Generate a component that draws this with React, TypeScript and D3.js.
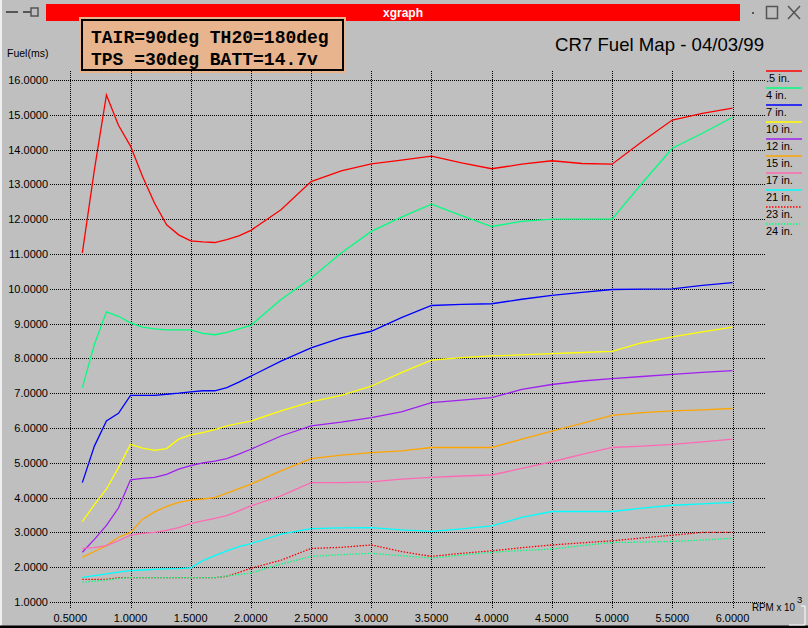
import * as d3 from 'd3';

// RPM (x 1000) sample points shared by every curve
const rpm = [0.6, 0.7, 0.8, 0.9, 1.0, 1.1, 1.2, 1.3, 1.4, 1.5, 1.6, 1.7, 1.8, 1.9, 2.0, 2.25, 2.5, 2.75, 3.0, 3.25, 3.5, 3.75, 4.0, 4.25, 4.5, 4.75, 5.0, 5.25, 5.5, 5.75, 6.0];

const fuel05 = [11.03, 13.42, 15.57, 14.7, 14.1, 13.23, 12.46, 11.84, 11.55, 11.38, 11.35, 11.33, 11.41, 11.52, 11.68, 12.27, 13.08, 13.39, 13.59, 13.7, 13.81, 13.62, 13.45, 13.58, 13.68, 13.6, 13.58, 14.23, 14.85, 15.04, 15.19];
const fuel4 = [7.16, 8.4, 9.34, 9.21, 9.02, 8.9, 8.85, 8.82, 8.82, 8.82, 8.72, 8.68, 8.75, 8.85, 8.95, 9.69, 10.3, 11.03, 11.65, 12.06, 12.43, 12.1, 11.79, 11.94, 12.0, 12.0, 12.0, 13.04, 14.04, 14.47, 14.93];
const fuel7 = [4.43, 5.48, 6.2, 6.42, 6.94, 6.94, 6.94, 6.97, 7.0, 7.04, 7.07, 7.07, 7.16, 7.32, 7.49, 7.92, 8.3, 8.59, 8.78, 9.17, 9.52, 9.55, 9.57, 9.7, 9.81, 9.9, 9.98, 9.99, 10.0, 10.1, 10.18];
const fuel10 = [3.31, 3.8, 4.24, 4.86, 5.53, 5.42, 5.36, 5.41, 5.68, 5.8, 5.87, 5.95, 6.06, 6.13, 6.2, 6.49, 6.75, 6.94, 7.2, 7.59, 7.95, 8.02, 8.07, 8.1, 8.14, 8.17, 8.2, 8.45, 8.62, 8.76, 8.9];
const fuel12 = [2.43, 2.8, 3.2, 3.7, 4.51, 4.55, 4.58, 4.67, 4.82, 4.92, 5.0, 5.05, 5.12, 5.25, 5.39, 5.77, 6.06, 6.17, 6.3, 6.46, 6.73, 6.8, 6.87, 7.11, 7.25, 7.35, 7.42, 7.48, 7.54, 7.6, 7.65];
const fuel15 = [2.28, 2.45, 2.62, 2.86, 3.0, 3.38, 3.59, 3.75, 3.86, 3.93, 3.96, 4.0, 4.13, 4.26, 4.39, 4.77, 5.12, 5.22, 5.29, 5.34, 5.44, 5.44, 5.44, 5.68, 5.91, 6.13, 6.36, 6.44, 6.49, 6.52, 6.56];
const fuel17 = [2.54, 2.56, 2.62, 2.76, 2.92, 2.97, 3.0, 3.06, 3.14, 3.25, 3.33, 3.4, 3.48, 3.62, 3.76, 4.05, 4.43, 4.43, 4.45, 4.53, 4.58, 4.62, 4.65, 4.84, 5.03, 5.24, 5.44, 5.48, 5.53, 5.6, 5.68];
const fuel21 = [1.71, 1.76, 1.81, 1.86, 1.9, 1.92, 1.94, 1.95, 1.96, 1.98, 2.19, 2.33, 2.47, 2.59, 2.68, 2.95, 3.11, 3.13, 3.14, 3.07, 3.03, 3.1, 3.19, 3.43, 3.6, 3.6, 3.6, 3.7, 3.78, 3.82, 3.86];
const fuel23 = [1.65, 1.65, 1.65, 1.7, 1.7, 1.7, 1.7, 1.7, 1.7, 1.7, 1.7, 1.7, 1.74, 1.85, 1.97, 2.2, 2.54, 2.57, 2.64, 2.45, 2.31, 2.4, 2.47, 2.56, 2.64, 2.7, 2.76, 2.84, 2.92, 3.0, 3.0];
const fuel24 = [1.57, 1.6, 1.63, 1.68, 1.7, 1.7, 1.7, 1.7, 1.7, 1.7, 1.7, 1.7, 1.75, 1.79, 1.83, 2.09, 2.31, 2.36, 2.4, 2.33, 2.26, 2.35, 2.43, 2.48, 2.52, 2.62, 2.71, 2.72, 2.74, 2.78, 2.83];

const seriesNames = ['.5 in.', '4 in.', '7 in.', '10 in.', '12 in.', '15 in.', '17 in.', '21 in.', '23 in.', '24 in.'];
const seriesValues = [fuel05, fuel4, fuel7, fuel10, fuel12, fuel15, fuel17, fuel21, fuel23, fuel24];
const seriesColors = ['#ff0000', '#00ff7f', '#0000ff', '#ffff00', '#a020f0', '#ffa500', '#ff69b4', '#00ffff', '#ff0000', '#00ff7f'];
const seriesDotted = [false, false, false, false, false, false, false, false, true, true];

const xTicks = [0.5, 1.0, 1.5, 2.0, 2.5, 3.0, 3.5, 4.0, 4.5, 5.0, 5.5, 6.0];
const yTicks = d3.range(1, 17);

const W = 808;
const H = 628;
const BG = '#bfbfbf';
const SANS = '"Liberation Sans", Arial, sans-serif';
const MONO = '"Liberation Mono", "DejaVu Sans Mono", monospace';

export default function App() {
    const x = d3.scaleLinear().domain([0.5, 6.0]).range([70.3, 732.5]);
    const y = d3.scaleLinear().domain([1, 16]).range([602, 80]);

    const gridLeft = 50;
    const gridRight = 766;
    const gridTop = 71;
    const gridBottom = 608;

    const line = d3.line<[number, number]>()
        .x(d => x(d[0]))
        .y(d => y(d[1]));

    return (
        <svg
            width={W}
            height={H}
            style={{ position: 'absolute', left: 0, top: 0, display: 'block' }}
            fontFamily={SANS}
        >
            <rect width={W} height={H} fill={BG} />

            {/* window frame */}
            <line x1={1} y1={0} x2={1} y2={H} stroke="#ffffff" strokeWidth={1.5} />
            <rect x={0} y={H - 2.5} width={W} height={2.5} fill="#000" />

            {/* title bar */}
            <rect x={46} y={4} width={694} height={17} fill="#ff0000" />
            <text x={403} y={17} textAnchor="middle" fill="#fff" fontSize={12} fontWeight="bold">xgraph</text>
            <line x1={6} y1={12} x2={18} y2={12} stroke="#555" strokeWidth={2} />
            <line x1={23} y1={12} x2={31} y2={12} stroke="#555" strokeWidth={2} />
            <rect x={31} y={8} width={7} height={8} fill="none" stroke="#555" strokeWidth={1.5} />
            <rect x={752} y={12} width={2} height={2} fill="#555" />
            <rect x={766.5} y={6.5} width={11} height={12} fill="none" stroke="#555" strokeWidth={1.5} />
            <line x1={788} y1={6} x2={800} y2={19} stroke="#555" strokeWidth={1.5} />
            <line x1={800} y1={6} x2={788} y2={19} stroke="#555" strokeWidth={1.5} />

            {/* info box */}
            <rect x={79} y={17} width={267} height={56} fill="#e8b48e" />
            <rect x={82} y={20} width={261} height={50} fill="none" stroke="#000" strokeWidth={2} />
            <text x={91} y={43} fontFamily={MONO} fontWeight="bold" fontSize={18} fill="#000">TAIR=90deg TH20=180deg</text>
            <text x={91} y={65} fontFamily={MONO} fontWeight="bold" fontSize={18} fill="#000">TPS =30deg BATT=14.7v</text>

            {/* chart title and axis labels */}
            <text x={555} y={51} fontSize={19} fill="#000" textLength={209} lengthAdjust="spacingAndGlyphs">CR7 Fuel Map - 04/03/99</text>
            <text x={7} y={57} fontSize={10.5} fill="#000">Fuel(ms)</text>
            <text x={752} y={611} fontSize={10.5} fill="#000" textLength={43} lengthAdjust="spacingAndGlyphs">RPM x 10</text>
            <text x={797} y={603} fontSize={9.5} fill="#000">3</text>

            {/* resize handle */}
            <polyline points="789,625 805,625 805,606 801,606" fill="none" stroke="#fff" strokeWidth={1} />

            {/* grid */}
            <g stroke="#000" strokeWidth={1} strokeDasharray="1,1" shapeRendering="crispEdges">
                {yTicks.map(t => (
                    <line key={'h' + t} x1={gridLeft} x2={gridRight} y1={Math.round(y(t)) + 0.5} y2={Math.round(y(t)) + 0.5} />
                ))}
                {xTicks.map(t => (
                    <line key={'v' + t} x1={Math.round(x(t)) + 0.5} x2={Math.round(x(t)) + 0.5} y1={gridTop} y2={gridBottom} />
                ))}
            </g>

            {/* tick labels */}
            <g fontSize={11} fill="#000">
                {yTicks.map(t => (
                    <text key={'yl' + t} x={48} y={y(t) + 4} textAnchor="end">{t.toFixed(4)}</text>
                ))}
                {xTicks.map(t => (
                    <text key={'xl' + t} x={x(t)} y={622} textAnchor="middle">{t.toFixed(4)}</text>
                ))}
            </g>

            {/* curves */}
            {seriesValues.map((vals, i) => (
                <path
                    key={'s' + i}
                    d={line(rpm.map((r, j) => [r, vals[j]] as [number, number])) || ''}
                    fill="none"
                    stroke={seriesColors[i]}
                    strokeWidth={1.3}
                    strokeDasharray={seriesDotted[i] ? '1.5,1.5' : undefined}
                />
            ))}

            {/* legend */}
            {seriesNames.map((name, i) => {
                const ly = 71 + i * 17;
                return (
                    <g key={'lg' + i}>
                        <line
                            x1={766}
                            x2={802}
                            y1={ly}
                            y2={ly}
                            stroke={seriesColors[i]}
                            strokeWidth={1.5}
                            strokeDasharray={seriesDotted[i] ? '1.5,1.5' : undefined}
                        />
                        <text x={766} y={ly + 10.5} fontSize={11} fill="#000">{name}</text>
                    </g>
                );
            })}
        </svg>
    );
}
